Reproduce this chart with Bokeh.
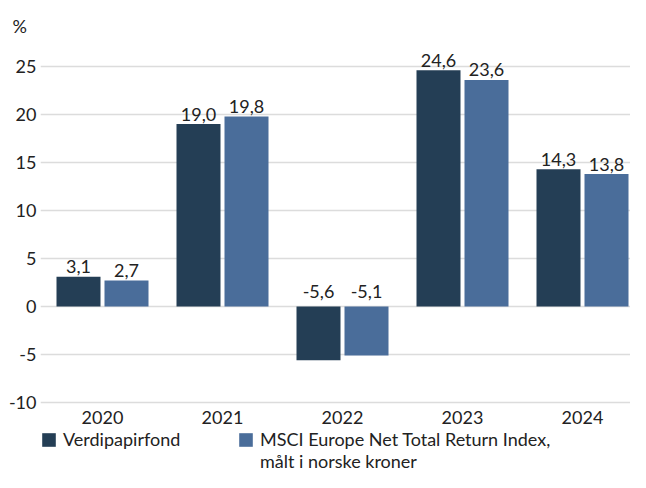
from bokeh.plotting import figure
from bokeh.models import (ColumnDataSource, Range1d, FixedTicker, Legend,
                          LegendItem)
from bokeh.transform import dodge
from bokeh.embed import file_html
from bokeh.resources import INLINE
from bokeh.core.properties import value

# ---- data ----
years = ["2020", "2021", "2022", "2023", "2024"]
fund = [3.1, 19.0, -5.6, 24.6, 14.3]
msci = [2.7, 19.8, -5.1, 23.6, 13.8]
y_ticks = [-10, -5, 0, 5, 10, 15, 20, 25]
series_names = ["Verdipapirfond", "MSCI Europe Net Total Return Index,"]
series_name_line2 = "målt i norske kroner"
unit_label = "%"

# ---- style ----
DARK = "#243E55"
LIGHT = "#4A6D9A"
GRID = "#DCDCDC"
TEXT = "#222222"
FONT = "Lato"

W, H = 630, 472
TOP, LEFT = 41, 40
PX_PER_GROUP = 120.0
FIRST_CENTER = 102
PX_PER_UNIT = 9.6
Y_TOP_TICK_PX = 66  # where the top gridline sits

def fmt(v):
    return f"{v:.1f}".replace(".", ",")

pos = list(range(len(years)))
src = ColumnDataSource(dict(
    x=pos,
    fund=fund, msci=msci,
    fund_top=[max(v, 0) for v in fund],
    msci_top=[max(v, 0) for v in msci],
    fund_lbl=[fmt(v) for v in fund],
    msci_lbl=[fmt(v) for v in msci],
    fund_off=[-10 if v >= 0 else -15 for v in fund],
    msci_off=[-10 if v >= 0 else -15 for v in msci],
))
year_src = ColumnDataSource(dict(x=pos, y=[min(y_ticks)] * len(pos), year=years))

x0 = -(FIRST_CENTER - LEFT) / PX_PER_GROUP
x1 = x0 + (W - LEFT) / PX_PER_GROUP
y1 = max(y_ticks) + (Y_TOP_TICK_PX - TOP) / PX_PER_UNIT
y0 = y1 - (H - TOP) / PX_PER_UNIT

p = figure(width=W, height=H, output_backend="svg", toolbar_location=None,
           x_range=Range1d(x0, x1), y_range=Range1d(y0, y1),
           min_border_top=TOP, min_border_bottom=0,
           min_border_left=LEFT, min_border_right=0)
p.outline_line_color = None
p.background_fill_color = "white"
p.border_fill_color = "white"

bw = 44 / PX_PER_GROUP
off = 24 / PX_PER_GROUP
r1 = p.vbar(x=dodge("x", -off), top="fund", width=bw, source=src,
            fill_color=DARK, line_color=None)
r2 = p.vbar(x=dodge("x", off), top="msci", width=bw, source=src,
            fill_color=LIGHT, line_color=None)
# invisible renderer used only for the legend's continuation line
ghost = p.vbar(x=[], top=[], width=bw, fill_alpha=0, line_alpha=0)

for col, yo, lbl, top in [(-off, "fund_off", "fund_lbl", "fund_top"),
                          (off, "msci_off", "msci_lbl", "msci_top")]:
    p.text(x=dodge("x", col), y=top, text=lbl, source=src,
           y_offset=yo, text_align="center", text_baseline="middle",
           text_font=value(FONT), text_font_size="18px", text_color=TEXT)

# category labels under the lowest gridline
p.text(x="x", y="y", text="year", source=year_src, y_offset=15,
       text_align="center", text_baseline="middle",
       text_font=value(FONT), text_font_size="18px", text_color=TEXT)

# axes and grid
p.xaxis.visible = False
p.xgrid.visible = False
p.ygrid.ticker = FixedTicker(ticks=y_ticks)
p.ygrid.grid_line_color = GRID
p.ygrid.grid_line_width = 1.5

p.yaxis.ticker = FixedTicker(ticks=y_ticks)
p.yaxis.major_label_overrides = {t: str(t) for t in y_ticks}
ax = p.yaxis[0]
ax.axis_line_color = None
ax.major_tick_line_color = None
ax.minor_tick_line_color = None
ax.major_tick_out = 0
ax.major_tick_in = 0
ax.major_label_text_font = FONT
ax.major_label_text_font_size = "18px"
ax.major_label_text_color = TEXT
ax.major_label_standoff = 4

# unit label
p.title.text = unit_label
p.title.align = "left"
p.title.offset = 12 - LEFT
p.title.standoff = 9
p.title.text_font = FONT
p.title.text_font_size = "18px"
p.title.text_font_style = "normal"
p.title.text_color = TEXT

# legend (2 columns; second row carries the wrapped part of the label)
legend = Legend(items=[LegendItem(label=series_names[0], renderers=[r1]),
                       LegendItem(label=series_names[1], renderers=[r2]),
                       LegendItem(label=" ", renderers=[ghost]),
                       LegendItem(label=series_name_line2, renderers=[ghost])],
                orientation="horizontal", ncols=2,
                location=(0, 0),
                glyph_width=17, glyph_height=17, label_standoff=6,
                label_width=174, label_height=22, spacing=0, padding=0,
                margin=0, border_line_color=None, background_fill_alpha=0,
                label_text_font=FONT, label_text_font_size="18px",
                label_text_color=TEXT)
p.add_layout(legend, "center")

open("out.html", "w").write(file_html(p, INLINE))
